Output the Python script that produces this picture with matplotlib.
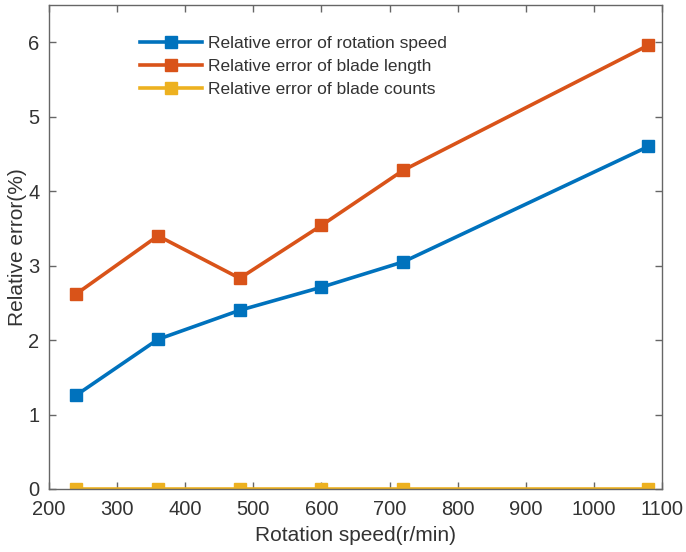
import matplotlib
matplotlib.use("Agg")
import matplotlib.pyplot as plt

plt.rcParams['font.family'] = ['Liberation Sans', 'DejaVu Sans']

speed = [240, 360, 480, 600, 720, 1080]
err_rotation = [1.26, 2.01, 2.40, 2.71, 3.05, 4.60]
err_length = [2.62, 3.40, 2.83, 3.54, 4.28, 5.96]
err_counts = [0, 0, 0, 0, 0, 0]
labels = ["Relative error of rotation speed",
          "Relative error of blade length",
          "Relative error of blade counts"]
colors = ["#0072BD", "#D95319", "#EDB120"]
xticks = [200, 300, 400, 500, 600, 700, 800, 900, 1000, 1100]
yticks = [0, 1, 2, 3, 4, 5, 6]

fig = plt.figure(figsize=(6.86, 5.52), dpi=100)
ax = fig.add_axes([49/686, 1 - 489/552, (662-49)/686, (489-5)/552])

for y, c, lab in zip([err_rotation, err_length, err_counts], colors, labels):
    ax.plot(speed, y, color=c, lw=2.6, marker='s', ms=8, mfc=c, mec=c, label=lab)

ax.set_xlim(200, 1100)
ax.set_ylim(0, 6.5)
ax.set_xticks(xticks)
ax.set_yticks(yticks)

axis_gray = "#666666"
text_gray = "#333333"
for s in ax.spines.values():
    s.set_color(axis_gray)
    s.set_linewidth(1.0)
ax.tick_params(direction='in', top=True, right=True, length=5, width=1.0,
               color=axis_gray, labelcolor=text_gray, labelsize=14.5)
ax.tick_params(axis='x', pad=8)
ax.tick_params(axis='y', pad=7)

ax.set_xlabel("Rotation speed(r/min)", fontsize=15, color=text_gray, labelpad=5)
ax.set_ylabel("Relative error(%)", fontsize=15, color=text_gray, labelpad=0.5)

leg = ax.legend(loc='upper left', bbox_to_anchor=(0.137, 0.95), frameon=False,
                fontsize=12.5, handlelength=3.6, handletextpad=0.3,
                labelspacing=0.45, borderaxespad=0)
for t in leg.get_texts():
    t.set_color(text_gray)

fig.savefig("out.png", dpi=100)
